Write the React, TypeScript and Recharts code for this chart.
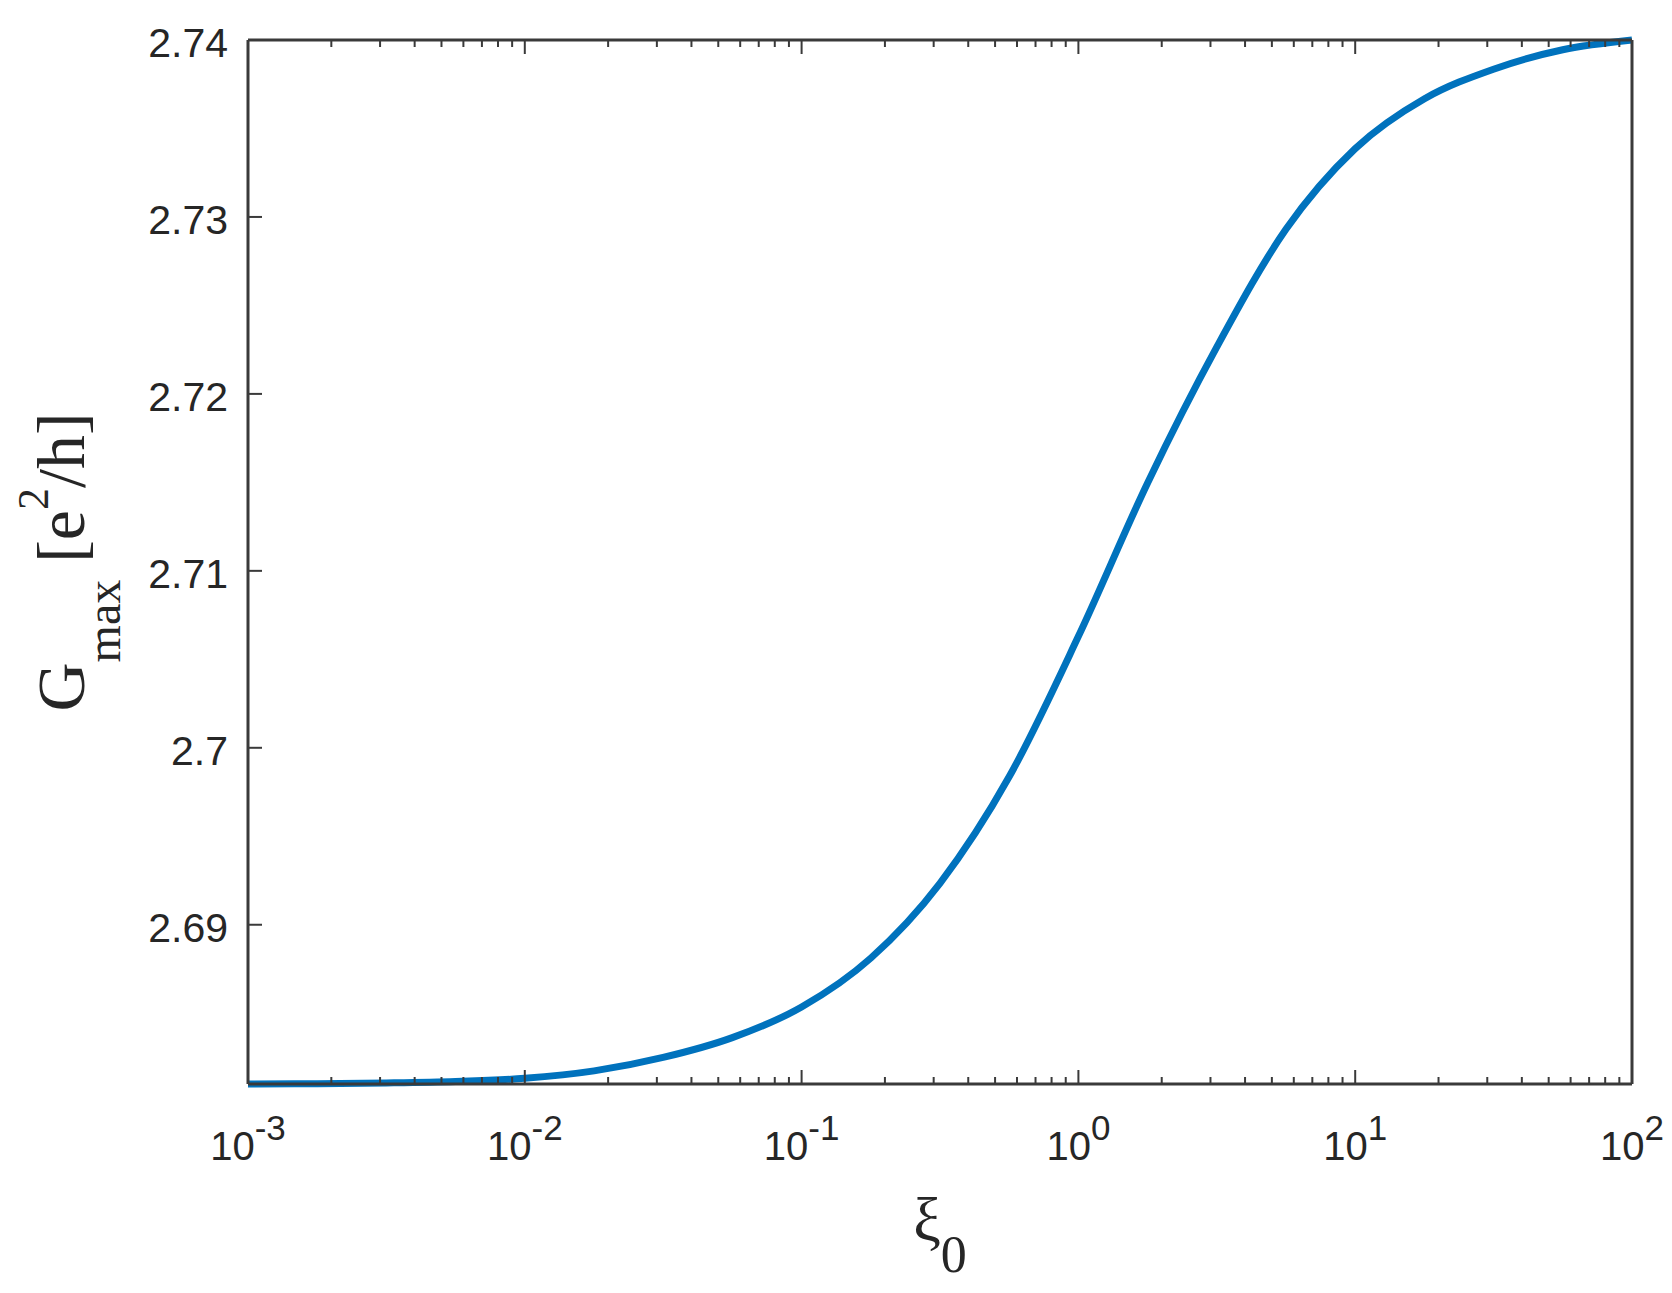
import { LineChart, Line, XAxis, YAxis } from 'recharts';

// xi_0 sample points (quarter decades) and G_max
const xiValues = [0.001, 0.00178, 0.00316, 0.00562, 0.01, 0.0178, 0.0316, 0.0562, 0.1, 0.178, 0.316, 0.562, 1, 1.78, 3.16, 5.62, 10, 17.8, 31.6, 56.2, 100];
const gMaxValues = [2.681, 2.68102, 2.68106, 2.68114, 2.68132, 2.68174, 2.6825, 2.68362, 2.68535, 2.68812, 2.69234, 2.69836, 2.7063, 2.71498, 2.72264, 2.7293, 2.73386, 2.73668, 2.73835, 2.73945, 2.74];

const decadeTicks = [0.001, 0.01, 0.1, 1, 10, 100];
const decadeExponents = ['-3', '-2', '-1', '0', '1', '2'];
const minorSteps = [2, 3, 4, 5, 6, 7, 8, 9];
const yTicks = [2.69, 2.7, 2.71, 2.72, 2.73, 2.74];
const yTickLabels = ['2.69', '2.7', '2.71', '2.72', '2.73', '2.74'];

const data = xiValues.map((xi, i) => ({ xi, g: gMaxValues[i] }));
const xTicks = [
  ...decadeTicks,
  ...decadeTicks.slice(0, -1).flatMap((d) => minorSteps.map((m) => d * m)),
];

const axisColor = '#3a3a3a';
const textColor = '#262626';
const sans = '"Liberation Sans", Arial, sans-serif';
const serif = '"Liberation Serif", "Times New Roman", serif';

const decadeIndex = (v: number) => decadeTicks.findIndex((d) => Math.abs(d - v) / d < 1e-6);

const BottomTick = (props: any) => {
  const { x, y, payload } = props;
  const i = decadeIndex(payload.value);
  return (
    <g>
      <line x1={x} x2={x} y1={y} y2={y - (i >= 0 ? 14 : 7)} stroke={axisColor} strokeWidth={2} />
      {i >= 0 && (
        <text x={x} y={y + 76} textAnchor="middle" fontFamily={sans} fontSize={40} fill={textColor}>
          10<tspan dy={-20} fontSize={35}>{decadeExponents[i]}</tspan>
        </text>
      )}
    </g>
  );
};

const TopTick = (props: any) => {
  const { x, y, payload } = props;
  const major = decadeIndex(payload.value) >= 0;
  return <line x1={x} x2={x} y1={y} y2={y + (major ? 14 : 7)} stroke={axisColor} strokeWidth={2} />;
};

const LeftTick = (props: any) => {
  const { x, y, index } = props;
  return (
    <g>
      <line x1={x} x2={x + 14} y1={y} y2={y} stroke={axisColor} strokeWidth={2} />
      <text x={x - 20} y={y + 17} textAnchor="end" fontFamily={sans} fontSize={41} fill={textColor}>
        {yTickLabels[index]}
      </text>
    </g>
  );
};

const RightTick = (props: any) => {
  const { x, y } = props;
  return <line x1={x} x2={x - 14} y1={y} y2={y} stroke={axisColor} strokeWidth={2} />;
};

const renderXTitle = (props: any) => {
  const vb = props.viewBox || { x: 248, y: 1084, width: 1384 };
  return (
    <text x={vb.x + vb.width / 2} y={vb.y + 156} textAnchor="middle" fontFamily={serif} fontSize={62} fill={textColor}>
      ξ<tspan dy={32} fontSize={52}>0</tspan>
    </text>
  );
};

const renderYTitle = (props: any) => {
  const vb = props.viewBox || { x: 0, y: 40, height: 1044 };
  const cx = vb.x + 84;
  const cy = vb.y + vb.height / 2;
  return (
    <text
      x={cx}
      y={cy}
      transform={`rotate(-90, ${cx}, ${cy})`}
      textAnchor="middle"
      fontFamily={serif}
      fontSize={68}
      fill={textColor}
    >
      G<tspan dy={36} fontSize={48}>max</tspan>
      <tspan dy={-36}> [e</tspan>
      <tspan dy={-36} fontSize={44}>2</tspan>
      <tspan dy={36}>/h]</tspan>
    </text>
  );
};

export default function App() {
  return (
    <div style={{ position: 'absolute', left: 0, top: 0, background: '#fff' }}>
      <LineChart width={1672} height={1293} data={data} margin={{ top: 39, right: 39, bottom: 0, left: 0 }}>
        <XAxis
          xAxisId="bottom"
          dataKey="xi"
          type="number"
          scale="log"
          domain={[0.001, 100]}
          ticks={xTicks}
          interval={0}
          height={209}
          tickSize={0}
          tickMargin={0}
          tickLine={false}
          axisLine={{ stroke: axisColor, strokeWidth: 3 }}
          tick={<BottomTick />}
          label={{ content: renderXTitle }}
        />
        <XAxis
          xAxisId="top"
          orientation="top"
          dataKey="xi"
          type="number"
          scale="log"
          domain={[0.001, 100]}
          ticks={xTicks}
          interval={0}
          height={1}
          tickSize={0}
          tickMargin={0}
          tickLine={false}
          axisLine={{ stroke: axisColor, strokeWidth: 3 }}
          tick={<TopTick />}
        />
        <YAxis
          yAxisId="left"
          type="number"
          domain={[2.681, 2.74]}
          ticks={yTicks}
          interval={0}
          width={248}
          tickSize={0}
          tickMargin={0}
          tickLine={false}
          axisLine={{ stroke: axisColor, strokeWidth: 3 }}
          tick={<LeftTick />}
          label={{ content: renderYTitle }}
        />
        <YAxis
          yAxisId="right"
          orientation="right"
          type="number"
          domain={[2.681, 2.74]}
          ticks={yTicks}
          interval={0}
          width={1}
          tickSize={0}
          tickMargin={0}
          tickLine={false}
          axisLine={{ stroke: axisColor, strokeWidth: 3 }}
          tick={<RightTick />}
        />
        <Line
          xAxisId="bottom"
          yAxisId="left"
          type="monotone"
          dataKey="g"
          stroke="#0072BD"
          strokeWidth={7}
          dot={false}
          activeDot={false}
          isAnimationActive={false}
        />
      </LineChart>
    </div>
  );
}
